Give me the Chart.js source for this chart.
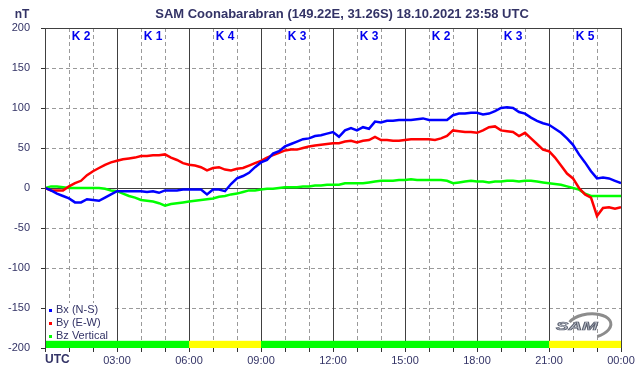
<!DOCTYPE html>
<html>
<head>
<meta charset="utf-8">
<script src="https://cdn.jsdelivr.net/npm/chart.js@4"></script>
<style>
  html, body { margin: 0; padding: 0; background: #fff; }
  canvas { display: block; }
</style>
</head>
<body>
<canvas id="chart" width="642" height="376"></canvas>
<script>
// hours since 00:00 UTC, every 15 minutes
const hours = [
  0, 0.25, 0.5, 0.75, 1, 1.25, 1.5, 1.75, 2, 2.25, 2.5, 2.75,
  3, 3.25, 3.5, 3.75, 4, 4.25, 4.5, 4.75, 5, 5.25, 5.5, 5.75,
  6, 6.25, 6.5, 6.75, 7, 7.25, 7.5, 7.75, 8, 8.25, 8.5, 8.75,
  9, 9.25, 9.5, 9.75, 10, 10.25, 10.5, 10.75, 11, 11.25, 11.5, 11.75,
  12, 12.25, 12.5, 12.75, 13, 13.25, 13.5, 13.75, 14, 14.25, 14.5, 14.75,
  15, 15.25, 15.5, 15.75, 16, 16.25, 16.5, 16.75, 17, 17.25, 17.5, 17.75,
  18, 18.25, 18.5, 18.75, 19, 19.25, 19.5, 19.75, 20, 20.25, 20.5, 20.75,
  21, 21.25, 21.5, 21.75, 22, 22.25, 22.5, 22.75, 23, 23.25, 23.5, 23.75, 24
];

const bx = [
  0, -3, -7, -10, -13, -18, -18, -14, -15, -16, -12, -8,
  -4, -4, -4, -4, -4, -5, -4, -6, -3, -3, -3, -2,
  -2, -2, -2, -8, -2, -2, -4, 5, 12, 15, 19, 26,
  32, 35, 43, 46, 52, 55, 58, 61, 62, 65, 66, 68,
  70, 64, 72, 75, 72, 76, 74, 83, 82, 84, 84, 85,
  85, 85, 86, 87, 85, 85, 85, 85, 91, 93, 93, 94,
  94, 92, 93, 96, 100, 101, 100, 95, 93, 88, 84, 81,
  79, 74, 69, 62, 54, 42, 32, 21, 12, 13, 12, 9, 6
];

const by = [
  0, -3, -3, -3, 2, 6, 9, 16, 21, 25, 29, 32,
  34, 36, 37, 38, 40, 40, 41, 41, 42, 38, 35, 31,
  29, 28, 26, 22, 25, 26, 23, 22, 24, 25, 28, 31,
  34, 38, 41, 44, 47, 48, 48, 50, 52, 53, 54, 55,
  56, 56, 58, 59, 57, 59, 60, 64, 60, 60, 59, 59,
  60, 61, 61, 61, 61, 60, 62, 65, 72, 71, 70, 70,
  69, 72, 76, 77, 72, 71, 70, 65, 69, 62, 55, 48,
  46, 38, 28, 18, 12, 0, -8, -12, -35, -25, -24, -26, -24
];

const bz = [
  0, 2, 2, 1, 0, 0, 0, 0, 0, 0, -1, -3,
  -4, -7, -10, -12, -15, -16, -17, -19, -22, -20, -19, -18,
  -17, -16, -15, -14, -13, -11, -10, -8, -7, -5, -3, -3,
  -2, -1, -1, 0, 1, 1, 1, 2, 2, 3, 3, 4,
  4, 4, 6, 6, 6, 6, 7, 8, 9, 9, 9, 10,
  10, 11, 10, 10, 10, 10, 10, 9, 6, 7, 8, 9,
  8, 8, 7, 8, 8, 9, 9, 8, 9, 9, 8, 7,
  6, 5, 4, 2, 0, -2, -7, -10, -10, -10, -10, -10, -10
];

// K index per 3-hour block
const kIndex = [2, 1, 4, 3, 3, 2, 3, 5];

// status bar along the bottom: [from hour, to hour, colour]
const statusBlocks = [
  [0, 6, '#00ff00'],
  [6, 9, '#ffff00'],
  [9, 21, '#00ff00'],
  [21, 24, '#ffff00']
];

const yTicks = [200, 150, 100, 50, 0, -50, -100, -150, -200];

const textColor = '#333366';
const pts = arr => hours.map((h, i) => ({ x: h, y: arr[i] }));

const overlay = {
  id: 'overlay',
  beforeDatasetsDraw(chart) {
    const { ctx, chartArea: a, scales: { x, y } } = chart;
    ctx.save();
    ctx.lineWidth = 1;
    // dashed grid
    ctx.strokeStyle = '#9a9a9a';
    ctx.setLineDash([4, 3]);
    for (let h = 1; h < 24; h++) {
      if (h % 3 === 0) continue;
      const px = Math.round(x.getPixelForValue(h)) + 0.5;
      ctx.beginPath(); ctx.moveTo(px, a.top); ctx.lineTo(px, a.bottom); ctx.stroke();
    }
    yTicks.forEach(v => {
      if (v === 0 || Math.abs(v) === 200) return;
      const py = Math.round(y.getPixelForValue(v)) + 0.5;
      ctx.beginPath(); ctx.moveTo(a.left, py); ctx.lineTo(a.right, py); ctx.stroke();
    });
    // solid 3h lines, zero line and frame
    ctx.setLineDash([]);
    ctx.strokeStyle = '#404040';
    for (let h = 0; h <= 24; h += 3) {
      const px = Math.round(x.getPixelForValue(h)) + 0.5;
      ctx.beginPath(); ctx.moveTo(px, a.top); ctx.lineTo(px, a.bottom); ctx.stroke();
    }
    const y0 = Math.round(y.getPixelForValue(0)) + 0.5;
    ctx.beginPath(); ctx.moveTo(a.left, y0); ctx.lineTo(a.right, y0); ctx.stroke();
    const yt = Math.round(y.getPixelForValue(200)) + 0.5;
    ctx.beginPath(); ctx.moveTo(a.left, yt); ctx.lineTo(a.right, yt); ctx.stroke();
    // status bar
    const barTop = y.getPixelForValue(-191);
    const barBot = y.getPixelForValue(-200);
    statusBlocks.forEach(([s, e, c]) => {
      const x1 = x.getPixelForValue(s), x2 = x.getPixelForValue(e);
      ctx.fillStyle = c;
      ctx.fillRect(x1, barTop, x2 - x1, barBot - barTop);
    });
    // legend box (white, hides the grid behind it)
    ctx.fillStyle = '#fff';
    ctx.fillRect(a.left + 1, 303, 66, 37);

    // logo
    ctx.strokeStyle = '#8c8c8c';
    ctx.lineWidth = 3;
    ctx.beginPath();
    ctx.ellipse(589, 326, 22, 12, -0.12, -2.6, 1.25);
    ctx.stroke();
    ctx.translate(556, 330);
    ctx.scale(1.7, 1);
    ctx.font = 'italic bold 11px "Liberation Sans", Arial, sans-serif';
    ctx.fillStyle = '#c0c4cc';
    ctx.strokeStyle = '#5a6070';
    ctx.lineWidth = 0.7;
    ctx.fillText('SAM', 0, 0);
    ctx.strokeText('SAM', 0, 0);
    ctx.restore();
  },
  afterDatasetsDraw(chart) {
    const { ctx, chartArea: a, scales: { x } } = chart;
    ctx.save();
    // K labels
    ctx.font = 'bold 12px "Liberation Sans", Arial, sans-serif';
    ctx.fillStyle = '#0000ee';
    ctx.textAlign = 'center';
    ctx.textBaseline = 'middle';
    kIndex.forEach((k, i) => {
      ctx.fillText('K ' + k, x.getPixelForValue(i * 3 + 1.5), a.top + 9);
    });
    // legend
    ctx.font = '11px "Liberation Sans", Arial, sans-serif';
    ctx.textAlign = 'left';
    chart.data.datasets.forEach((ds, i) => {
      const ly = 310 + i * 13;
      ctx.fillStyle = ds.borderColor;
      ctx.fillRect(a.left + 4, ly - 1, 3, 3);
      ctx.fillStyle = textColor;
      ctx.fillText(ds.label, a.left + 11, ly);
    });
    ctx.restore();
  },
  afterDraw(chart) {
    const { ctx, chartArea: a } = chart;
    ctx.save();
    ctx.setLineDash([]);
    ctx.strokeStyle = '#404040';
    ctx.lineWidth = 1;
    ctx.beginPath();
    ctx.moveTo(a.left + 0.5, a.top); ctx.lineTo(a.left + 0.5, a.bottom);
    ctx.moveTo(a.right + 0.5, a.top); ctx.lineTo(a.right + 0.5, a.bottom);
    ctx.stroke();
    ctx.fillStyle = textColor;
    ctx.textBaseline = 'middle';
    ctx.textAlign = 'center';
    ctx.font = 'bold 13px "Liberation Sans", Arial, sans-serif';
    ctx.fillText('SAM Coonabarabran (149.22E, 31.26S) 18.10.2021 23:58 UTC', 342, 14);
    ctx.font = 'bold 12px "Liberation Sans", Arial, sans-serif';
    ctx.fillText('nT', 22, 15);
    ctx.textAlign = 'left';
    ctx.fillText('UTC', a.left, a.bottom + 12);
    ctx.restore();
  }
};

new Chart(document.getElementById('chart'), {
  type: 'line',
  data: {
    datasets: [
      { label: 'Bx (N-S)', data: pts(bx), borderColor: '#0000ff' },
      { label: 'By (E-W)', data: pts(by), borderColor: '#ff0000' },
      { label: 'Bz Vertical', data: pts(bz), borderColor: '#00ff00' }
    ]
  },
  plugins: [overlay],
  options: {
    responsive: false,
    animation: false,
    devicePixelRatio: 1,
    layout: { padding: { top: 28, right: 21, left: 0, bottom: 0 } },
    elements: {
      line: { borderWidth: 2.5, tension: 0 },
      point: { radius: 0 }
    },
    plugins: { legend: { display: false }, tooltip: { enabled: false } },
    scales: {
      x: {
        type: 'linear',
        min: 0,
        max: 24,
        afterFit: s => { s.height = 28; },
        afterBuildTicks: s => { s.ticks = hours.filter(h => h % 1 === 0).map(h => ({ value: h })); },
        ticks: {
          autoSkip: false,
          maxRotation: 0,
          padding: 2,
          color: textColor,
          font: { size: 11, family: '"Liberation Sans", Arial, sans-serif' },
          callback: v => (v % 3 === 0 && v > 0) ? String(v % 24).padStart(2, '0') + ':00' : ''
        },
        grid: { drawOnChartArea: false, tickLength: 4, color: '#333', tickColor: '#333' },
        border: { display: false }
      },
      y: {
        min: -200,
        max: 200,
        afterFit: s => { s.width = 45; },
        afterBuildTicks: s => { s.ticks = yTicks.map(v => ({ value: v })); },
        ticks: {
          padding: 11,
          color: textColor,
          font: { size: 11, family: '"Liberation Sans", Arial, sans-serif' }
        },
        grid: { drawOnChartArea: false, tickLength: 4, color: '#333', tickColor: '#333' },
        border: { display: false }
      }
    }
  }
});
</script>
</body>
</html>
